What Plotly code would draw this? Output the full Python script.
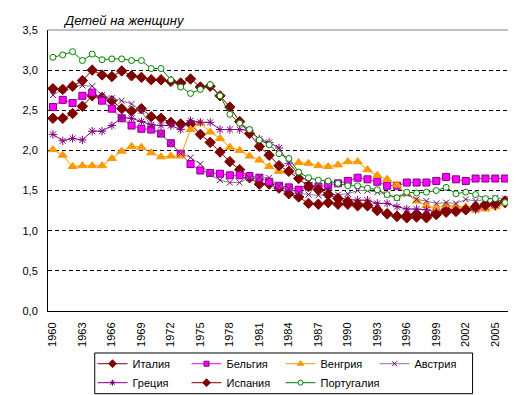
import plotly.graph_objects as go

years = [str(y) for y in range(1960, 2007)]
tick_years = [str(y) for y in range(1960, 2007, 3)]
y_ticks = [0, 0.5, 1.0, 1.5, 2.0, 2.5, 3.0, 3.5]
y_tick_text = ["0,0", "0,5", "1,0", "1,5", "2,0", "2,5", "3,0", "3,5"]

italy = [2.40, 2.40, 2.46, 2.55, 2.68, 2.66, 2.62, 2.52, 2.49, 2.52, 2.42, 2.40, 2.35, 2.33, 2.33,
         2.20, 2.10, 1.98, 1.86, 1.76, 1.66, 1.58, 1.58, 1.53, 1.46, 1.42, 1.34, 1.33, 1.35, 1.33,
         1.33, 1.31, 1.31, 1.25, 1.21, 1.18, 1.19, 1.21, 1.19, 1.22, 1.26, 1.25, 1.27, 1.29, 1.33,
         1.32, 1.35]
belgium = [2.54, 2.63, 2.59, 2.68, 2.72, 2.62, 2.52, 2.40, 2.31, 2.27, 2.26, 2.21, 2.09, 1.96, 1.83,
           1.75, 1.72, 1.71, 1.69, 1.69, 1.68, 1.66, 1.61, 1.56, 1.54, 1.51, 1.55, 1.55, 1.57, 1.59,
           1.62, 1.66, 1.64, 1.61, 1.56, 1.56, 1.60, 1.60, 1.60, 1.62, 1.67, 1.64, 1.62, 1.65, 1.65,
           1.65, 1.65]
hungary = [2.01, 1.94, 1.80, 1.81, 1.81, 1.81, 1.90, 1.99, 2.05, 2.04, 1.97, 1.92, 1.93, 1.93, 2.26,
           2.34, 2.23, 2.15, 2.04, 2.00, 1.93, 1.88, 1.80, 1.74, 1.74, 1.85, 1.84, 1.81, 1.80, 1.82,
           1.86, 1.86, 1.76, 1.69, 1.64, 1.57, 1.46, 1.37, 1.31, 1.28, 1.32, 1.30, 1.30, 1.26, 1.27,
           1.30, 1.34]
austria = [2.69, 2.76, 2.80, 2.81, 2.80, 2.69, 2.65, 2.62, 2.58, 2.49, 2.30, 2.20, 2.09, 1.96, 1.91,
           1.83, 1.70, 1.63, 1.60, 1.60, 1.66, 1.67, 1.66, 1.56, 1.52, 1.47, 1.45, 1.44, 1.45, 1.45,
           1.46, 1.50, 1.50, 1.48, 1.45, 1.41, 1.46, 1.39, 1.37, 1.34, 1.35, 1.34, 1.39, 1.37, 1.39,
           1.41, 1.40]
greece = [2.20, 2.12, 2.15, 2.13, 2.24, 2.24, 2.31, 2.41, 2.40, 2.36, 2.32, 2.31, 2.31, 2.26, 2.37,
          2.35, 2.35, 2.26, 2.26, 2.26, 2.25, 2.14, 2.10, 2.03, 1.84, 1.71, 1.60, 1.52, 1.51, 1.41,
          1.39, 1.38, 1.38, 1.34, 1.34, 1.30, 1.27, 1.27, 1.26, 1.23, 1.26, 1.25, 1.26, 1.26, 1.30,
          1.32, 1.37]
spain = [2.77, 2.76, 2.80, 2.87, 3.00, 2.94, 2.92, 2.99, 2.93, 2.91, 2.88, 2.88, 2.86, 2.84, 2.89,
         2.79, 2.80, 2.68, 2.54, 2.36, 2.21, 2.05, 1.94, 1.81, 1.74, 1.65, 1.55, 1.51, 1.45, 1.40,
         1.36, 1.33, 1.32, 1.26, 1.21, 1.18, 1.16, 1.17, 1.16, 1.20, 1.23, 1.24, 1.26, 1.30, 1.32,
         1.34, 1.37]
portugal = [3.16, 3.19, 3.23, 3.12, 3.20, 3.13, 3.14, 3.14, 3.12, 3.12, 3.02, 3.02, 2.88, 2.79, 2.71,
            2.76, 2.82, 2.68, 2.45, 2.34, 2.26, 2.13, 2.07, 1.96, 1.90, 1.73, 1.66, 1.63, 1.62, 1.59,
            1.56, 1.56, 1.53, 1.51, 1.45, 1.41, 1.48, 1.47, 1.48, 1.50, 1.54, 1.46, 1.48, 1.45, 1.40,
            1.40, 1.35]

FONT = "Arial, Liberation Sans, sans-serif"

series = [
    ("Италия", italy, "#800000", dict(symbol="diamond", size=8, color="#800000", line=dict(color="#800000", width=1))),
    ("Бельгия", belgium, "#FF00FF", dict(symbol="square", size=7, color="#FF00FF", line=dict(color="#800080", width=1))),
    ("Венгрия", hungary, "#FF9900", dict(symbol="triangle-up", size=8, color="#FF9900", line=dict(color="#FF9900", width=1))),
    ("Австрия", austria, "#808080", dict(symbol="x-thin", size=6, color="#800080", line=dict(color="#800080", width=1))),
    ("Греция", greece, "#800080", dict(symbol="asterisk", size=7, color="#800080", line=dict(color="#800080", width=1))),
    ("Испания", spain, "#800000", dict(symbol="diamond", size=8, color="#800000", line=dict(color="#800000", width=1))),
    ("Португалия", portugal, "#008000", dict(symbol="circle", size=6, color="white", line=dict(color="#008000", width=1))),
]

fig = go.Figure()
for name, vals, color, marker in series:
    fig.add_trace(go.Scatter(x=years, y=vals, name=name, mode="lines+markers",
                             line=dict(color=color, width=1), marker=marker,
                             legendgroup=name, showlegend=False))
# legend entries (smaller symbols, like the original legend)
for name, vals, color, marker in series:
    lm = dict(marker)
    lm["size"] = max(5, marker["size"] - 2)
    fig.add_trace(go.Scatter(x=[None], y=[None], name=name, mode="lines+markers",
                             line=dict(color=color, width=1), marker=lm,
                             legendgroup=name, showlegend=True))

lx0, lx1 = (86.7 - 40) / 461.7, (464.3 - 40) / 461.7
ly0, ly1 = (303 - 385.7) / 281, (303 - 345) / 281

fig.update_layout(
    width=516, height=395,
    margin=dict(l=40, r=14, t=22, b=92, autoexpand=False),
    paper_bgcolor="white", plot_bgcolor="white",
    font=dict(family=FONT, size=11, color="black"),
    showlegend=True,
    legend=dict(orientation="h", x=(84.5 - 40) / 461.7, xanchor="left", y=-0.136, yanchor="top",
                borderwidth=0, bgcolor="rgba(0,0,0,0)", font=dict(size=11, family=FONT),
                entrywidth=49, entrywidthmode="pixels", tracegroupgap=0),
    xaxis=dict(type="category", range=[-0.5, 46.5], tickmode="array", tickvals=tick_years,
               ticktext=tick_years, tickangle=-90, showgrid=False, showline=True,
               linecolor="black", linewidth=1, ticks="", ticklabelstandoff=6,
               tickfont=dict(size=11), automargin=False),
    yaxis=dict(range=[0, 3.5], tickmode="array", tickvals=y_ticks, ticktext=y_tick_text,
               showgrid=True, gridcolor="black", griddash="4px,3px", gridwidth=1,
               zeroline=False, showline=True, linecolor="black", linewidth=1, ticks="",
               ticklabelstandoff=7, tickfont=dict(size=11), automargin=False),
    annotations=[dict(text="<i>Детей на женщину</i>", xref="paper", yref="paper",
                      x=0.028, y=1.0, xanchor="left", yanchor="bottom", showarrow=False,
                      font=dict(size=13, family=FONT))],
    shapes=[
        dict(type="line", xref="paper", yref="paper", x0=0, x1=1, y0=1, y1=1,
             line=dict(color="#808080", width=1), layer="above"),
        dict(type="line", xref="paper", yref="paper", x0=1, x1=1, y0=0, y1=1,
             line=dict(color="#808080", width=1), layer="above"),
        dict(type="rect", xref="paper", yref="paper", x0=lx0, x1=lx1, y0=ly0, y1=ly1,
             line=dict(color="black", width=1), fillcolor="rgba(0,0,0,0)", layer="above"),
    ],
)

fig.write_html("out.html")
